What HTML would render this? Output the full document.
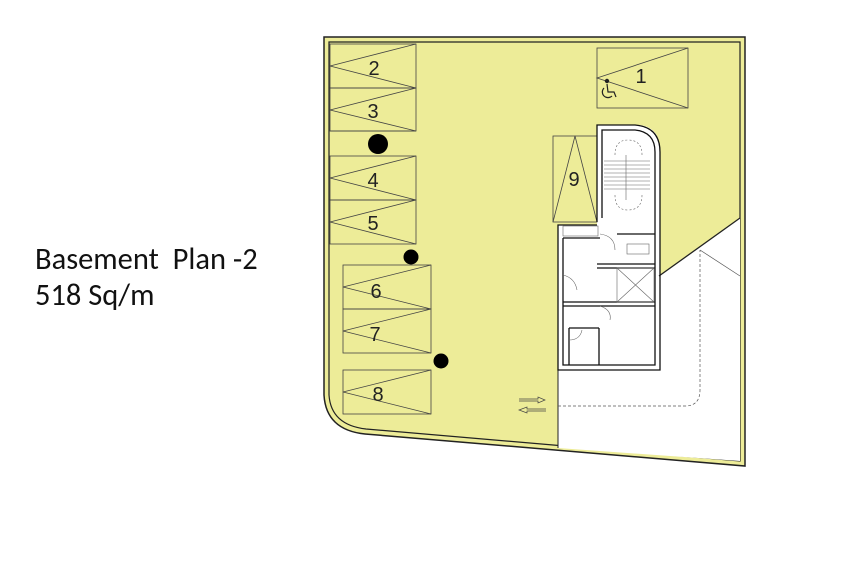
<!DOCTYPE html>
<html><head><style>
body{margin:0;background:#fff;width:857px;height:563px;overflow:hidden;font-family:"Liberation Sans",sans-serif}
</style></head><body>
<svg width="857" height="563" viewBox="0 0 857 563" xmlns="http://www.w3.org/2000/svg" font-family="Liberation Sans, sans-serif">
<text x="35" y="269" font-size="30.5" fill="#111" font-family="Carlito, Liberation Sans, sans-serif" xml:space="preserve">Basement  Plan -2</text>
<text x="35" y="305" font-size="30.5" fill="#111" font-family="Carlito, Liberation Sans, sans-serif">518 Sq/m</text>
<path d="M324,37 L745,37 L745,466 L365,434 Q326,430 324,395 Z" fill="#edec98" stroke="#222" stroke-width="1.5"/>
<path d="M329,42 L740,42 L740,461 L366,429 Q331,425 329,395 Z" fill="#edec98" stroke="#222" stroke-width="1.2"/>
<path d="M558,448 L558,225 L597,225 L597,125 L640,125 Q660,128 660,150 L660,276 L740,218 L740,461 Z" fill="#fff" stroke="none"/>
<line x1="558" y1="225" x2="558" y2="448" stroke="#222" stroke-width="1"/>
<line x1="659" y1="276" x2="740" y2="218" stroke="#222" stroke-width="1.3"/>
<line x1="700" y1="250" x2="740" y2="276" stroke="#555" stroke-width="0.7"/>
<path d="M558,406 L685,406 Q700,406 700,390 L700,250" fill="none" stroke="#555" stroke-width="0.7" stroke-dasharray="3,2"/>
<g fill="none" stroke="#444" stroke-width="0.8">
<rect x="330" y="44" width="86" height="44"/><path d="M416,44 L330,66 L416,88"/>
<rect x="330" y="88" width="86" height="43"/><path d="M416,88 L330,110 L416,131"/>
<line x1="330" y1="131" x2="416" y2="131"/>
<rect x="330" y="156" width="86" height="44"/><path d="M416,156 L330,178 L416,200"/>
<rect x="330" y="200" width="86" height="44"/><path d="M416,200 L330,222 L416,244"/>
<rect x="343" y="265" width="88" height="44"/><path d="M431,265 L343,287 L431,309"/>
<rect x="343" y="309" width="88" height="44"/><path d="M431,309 L343,331 L431,353"/>
<rect x="343" y="370" width="88" height="44"/><path d="M431,370 L343,392 L431,414"/>
<rect x="597" y="48" width="91" height="60"/><path d="M688,48 L597,78 L688,108"/>
<rect x="553" y="136" width="44" height="86"/><path d="M553,222 L575,136 L597,222"/>
</g>
<g font-size="20" fill="#222" text-anchor="middle">
<text x="374" y="75">2</text><text x="373" y="118">3</text><text x="373" y="187">4</text><text x="373" y="230">5</text>
<text x="376" y="298">6</text><text x="375" y="341">7</text><text x="378" y="401">8</text>
<text x="641" y="83">1</text><text x="574" y="186">9</text>
</g>
<g fill="none" stroke="#222" stroke-width="1.2">
<circle cx="607" cy="81" r="1.6" fill="#222"/>
<path d="M607,84 L608,92 L614,92 L616,97"/>
<path d="M604,88 A5,5 0 1 0 612,96"/>
</g>
<circle cx="378" cy="144" r="10" fill="#000"/>
<circle cx="411" cy="257" r="7.5" fill="#000"/>
<circle cx="441" cy="361" r="7.5" fill="#000"/>
<g fill="none" stroke="#111" stroke-width="1.3">
<path d="M597,222 L597,125 L635,125 Q660,127 660,152 L660,370 L558,370 L558,225 L597,225"/>
<path d="M602,218 L602,130 L635,130 Q655,132 655,152 L655,365 L563,365 L563,238"/>
<line x1="563" y1="238" x2="600" y2="238"/>
<line x1="563" y1="302" x2="655" y2="302"/>
<line x1="563" y1="306" x2="655" y2="306"/>
<line x1="617" y1="234" x2="655" y2="234"/>
<line x1="597" y1="264" x2="655" y2="264"/>
<line x1="597" y1="268" x2="655" y2="268"/>
<line x1="599" y1="328" x2="599" y2="365"/>
<line x1="569" y1="328" x2="599" y2="328"/>
<line x1="569" y1="328" x2="569" y2="365"/>
</g>
<g fill="none" stroke="#666" stroke-width="0.6">
<rect x="617" y="268" width="37" height="34"/><path d="M617,268 L654,302 M654,268 L617,302"/>
<rect x="563" y="226" width="35" height="10"/>
<path d="M604,161 L650,161 M604,165 L650,165 M604,169 L650,169 M604,173 L650,173 M604,177 L650,177 M604,181 L650,181 M604,185 L650,185 M604,189 L650,189"/>
<line x1="626" y1="155" x2="626" y2="200"/>
<path d="M615,155 Q615,140 628,140 Q642,140 642,155 M615,195 Q615,210 628,210 Q642,210 642,195" stroke-dasharray="2,2"/>
<path d="M600,234 Q615,236 615,250 M563,275 Q575,278 577,290 M600,306 Q612,310 610,320 M569,340 Q580,340 582,330"/>
<rect x="627" y="244" width="22" height="10"/>
</g>
<g fill="none" stroke="#444" stroke-width="0.7">
<path d="M519,399 L538,399 L538,397 L545,400 L538,403 L538,401 L519,401"/>
<path d="M546,409 L527,409 L527,407 L519,410 L527,413 L527,411 L546,411"/>
</g>
</svg>
</body></html>
